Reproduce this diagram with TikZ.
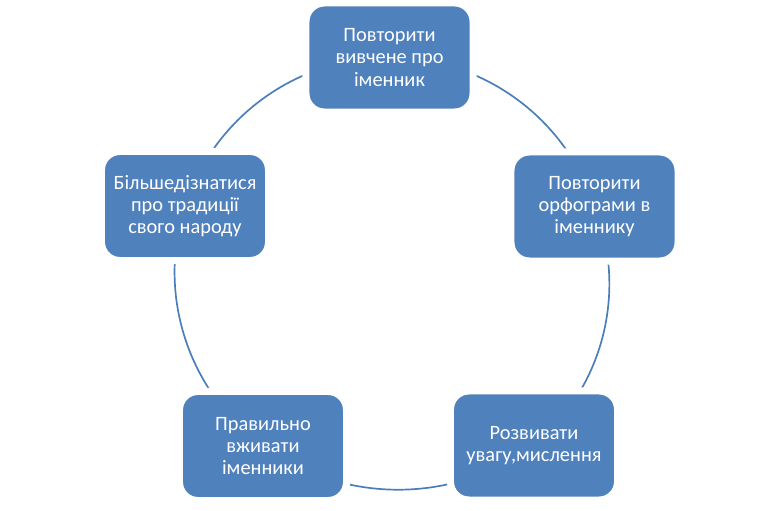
\documentclass[tikz,border=0pt]{standalone}
\usepackage{fontspec}
\setmainfont{Carlito}
\usepackage{tikz}
\usetikzlibrary{arrows,backgrounds,positioning}

\definecolor{boxblue}{HTML}{4F81BD}
\definecolor{lineblue}{HTML}{4A7EBB}

\begin{document}
\begin{tikzpicture}[
  goal/.style={rectangle, rounded corners=0.46cm, fill=boxblue, text=white,
    draw=white, line width=5pt,
    minimum width=4.176cm, minimum height=2.726cm, align=center,
    font=\fontsize{14.5}{15.8}\selectfont, inner sep=0pt},
  link/.style={draw=lineblue, line width=1.2pt, bend left=36, looseness=0.94}
]
\useasboundingbox (0,0) rectangle (18.925,12.75);

\node[goal] (povt) at (9.7375,11.3125) {Повторити\\вивчене про\\іменник};
\node[goal] (orfo) at (14.8625,7.5875) {Повторити\\орфограми в\\іменнику};
\node[goal] (rozv) at (13.35,1.6125) {Розвивати\\увагу,мислення};
\node[goal] (vzhy) at (6.575,1.6) {Правильно\\вживати\\іменники};
\node[goal] (trad) at (4.625,7.6) {Більшедізнатися\\про традиції\\свого народу};

\begin{scope}[on background layer]
\draw[link] (povt.center) to (orfo.center);
\draw[link] (orfo.center) to (rozv.center);
\draw[link] (rozv.center) to (vzhy.center);
\draw[link] (vzhy.center) to (trad.center);
\draw[link] (trad.center) to (povt.center);
\end{scope}

\end{tikzpicture}
\end{document}
